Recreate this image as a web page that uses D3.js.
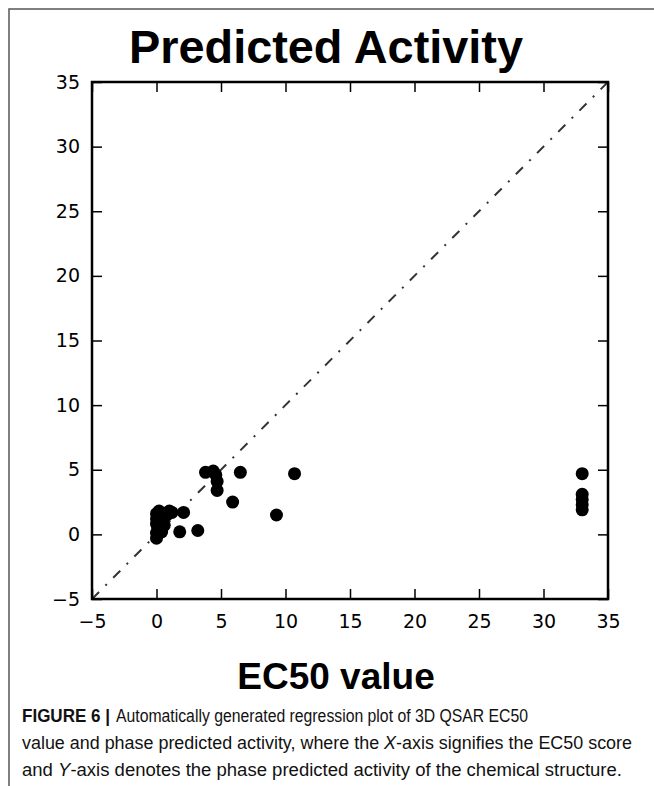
<!DOCTYPE html>
<html>
<head>
<meta charset="utf-8">
<script src="https://cdn.jsdelivr.net/npm/d3@7"></script>
<style>
  body { margin: 0; background: #fff; }
  svg { display: block; }
</style>
</head>
<body>
<div id="chart"></div>
<script>
// EC50 (x) vs phase predicted activity (y)
var ec50 = [0, 0, 0.1, 0, 0, 0, 0.2, 0.4, 0.6, 0.5, 0.8, 1.0, 1.2, 0.3,
            1.8, 3.2, 2.1,
            3.8, 4.4, 4.7, 4.7, 4.6, 6.5, 5.9, 9.3, 10.7,
            33, 33, 33, 33, 33];
var predicted = [-0.3, 0.1, 0.4, 0.8, 1.2, 1.6, 1.8, 0.2, 0.7, 1.2, 1.5, 1.8, 1.7, 1.0,
                 0.2, 0.3, 1.7,
                 4.8, 4.9, 4.1, 3.4, 4.6, 4.8, 2.5, 1.5, 4.7,
                 4.7, 3.1, 2.7, 2.3, 1.9];
var ticks = [-5, 0, 5, 10, 15, 20, 25, 30, 35];
var domain = [-5, 35];

var width = 654, height = 786;
var mLeft = 92, mRight = 608, mTop = 82, mBottom = 599;
var tickLen = 10;

var svg = d3.select("#chart").append("svg")
  .attr("width", width)
  .attr("height", height);

// figure frame (left + top)
svg.append("path")
  .attr("d", "M9," + height + " L9,9 L" + width + ",9")
  .attr("fill", "none")
  .attr("stroke", "#555")
  .attr("stroke-width", 1.5);

var x = d3.scaleLinear().domain(domain).range([mLeft, mRight]);
var y = d3.scaleLinear().domain(domain).range([mBottom, mTop]);

// title
svg.append("text")
  .attr("x", 326)
  .attr("y", 63)
  .attr("text-anchor", "middle")
  .attr("font-family", "Liberation Sans Narrow, Liberation Sans, Arial, sans-serif")
  .attr("font-weight", "bold")
  .attr("font-size", 47)
  .attr("textLength", 394)
  .attr("lengthAdjust", "spacingAndGlyphs")
  .text("Predicted Activity");

// identity line, dash-dot
svg.append("line")
  .attr("x1", x(domain[0])).attr("y1", y(domain[0]))
  .attr("x2", x(domain[1])).attr("y2", y(domain[1]))
  .attr("stroke", "#333")
  .attr("stroke-width", 2)
  .attr("stroke-dasharray", "10,9,2,9");

// points
svg.selectAll("circle.pt")
  .data(ec50.map(function(v, i) { return [v, predicted[i]]; }))
  .enter().append("circle")
  .attr("class", "pt")
  .attr("cx", function(d) { return x(d[0]); })
  .attr("cy", function(d) { return y(d[1]); })
  .attr("r", 6.5)
  .attr("fill", "#000");

// axes, ticks pointing inward on all four sides
var fmt = function(d) { return String(d).replace("-", "\u2212"); };
var xb = svg.append("g").attr("transform", "translate(0," + mBottom + ")")
  .call(d3.axisBottom(x).tickValues(ticks).tickSizeInner(-tickLen).tickSizeOuter(0).tickPadding(tickLen + 6).tickFormat(fmt));
var xt = svg.append("g").attr("transform", "translate(0," + mTop + ")")
  .call(d3.axisTop(x).tickValues(ticks).tickSizeInner(-tickLen).tickSizeOuter(0).tickFormat(""));
var yl = svg.append("g").attr("transform", "translate(" + mLeft + ",0)")
  .call(d3.axisLeft(y).tickValues(ticks).tickSizeInner(-tickLen).tickSizeOuter(0).tickPadding(tickLen + 2).tickFormat(fmt));
var yr = svg.append("g").attr("transform", "translate(" + mRight + ",0)")
  .call(d3.axisRight(y).tickValues(ticks).tickSizeInner(-tickLen).tickSizeOuter(0).tickFormat(""));

[xb, xt, yl, yr].forEach(function(g) {
  g.select(".domain").remove();
  g.selectAll(".tick line").attr("stroke", "#000").attr("stroke-width", 1.5);
  g.selectAll(".tick text").attr("font-family", "DejaVu Sans, sans-serif").attr("font-size", 19).attr("fill", "#000");
});

// plot frame
svg.append("rect")
  .attr("x", mLeft).attr("y", mTop)
  .attr("width", mRight - mLeft).attr("height", mBottom - mTop)
  .attr("fill", "none")
  .attr("stroke", "#000")
  .attr("stroke-width", 2.5);

// x axis label
svg.append("text")
  .attr("x", 336)
  .attr("y", 689)
  .attr("text-anchor", "middle")
  .attr("font-family", "Liberation Sans, Arial, sans-serif")
  .attr("font-weight", "bold")
  .attr("font-size", 37)
  .text("EC50 value");

// caption
var cap = svg.append("g")
  .attr("font-family", "Liberation Sans, Arial, sans-serif")
  .attr("font-size", 17.5)
  .attr("fill", "#111");

cap.append("text").attr("x", 22).attr("y", 722)
  .attr("font-weight", "bold")
  .attr("textLength", 88).attr("lengthAdjust", "spacingAndGlyphs")
  .text("FIGURE 6 |");
cap.append("text").attr("x", 116).attr("y", 722)
  .attr("textLength", 412).attr("lengthAdjust", "spacingAndGlyphs")
  .text("Automatically generated regression plot of 3D QSAR EC50");

var l2 = cap.append("text").attr("x", 22).attr("y", 749).attr("textLength", 610).attr("lengthAdjust", "spacingAndGlyphs");
l2.append("tspan").text("value and phase predicted activity, where the ");
l2.append("tspan").attr("font-style", "italic").text("X");
l2.append("tspan").text("-axis signifies the EC50 score");

var l3 = cap.append("text").attr("x", 22).attr("y", 776).attr("textLength", 600).attr("lengthAdjust", "spacingAndGlyphs");
l3.append("tspan").text("and ");
l3.append("tspan").attr("font-style", "italic").text("Y");
l3.append("tspan").text("-axis denotes the phase predicted activity of the chemical structure.");
</script>
</body>
</html>
